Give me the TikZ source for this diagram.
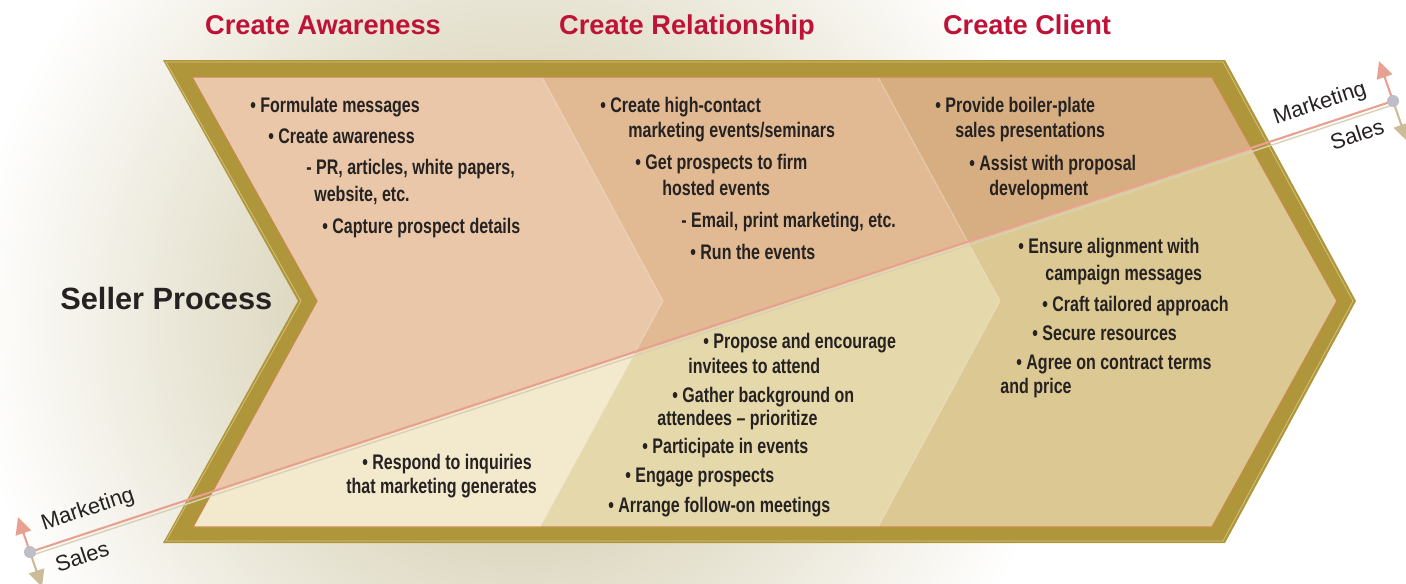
\documentclass[tikz,border=0pt]{standalone}
\usepackage{fontspec}
\setmainfont{Liberation Sans}
\newfontfamily\condfont[FakeStretch=0.76]{Liberation Sans}
\usetikzlibrary{arrows.meta}

\definecolor{gold}{RGB}{176,150,58}
\definecolor{goldedge}{RGB}{196,140,72}
\definecolor{goldlight}{RGB}{214,196,130}
\definecolor{ink}{RGB}{38,34,34}
\definecolor{crimson}{RGB}{190,18,55}
\definecolor{mktA}{RGB}{233,199,168}
\definecolor{mktB}{RGB}{225,186,147}
\definecolor{mktC}{RGB}{214,174,129}
\definecolor{slsA}{RGB}{243,234,206}
\definecolor{slsB}{RGB}{229,216,170}
\definecolor{slsC}{RGB}{220,200,146}
\definecolor{mkline}{RGB}{232,160,145}
\definecolor{slline}{RGB}{202,188,150}
\definecolor{haze}{RGB}{200,191,152}
\definecolor{dotgrey}{RGB}{190,190,198}

\begin{document}
\begin{tikzpicture}[
    x = 0.02cm, y = -0.02cm,
    item/.style = {font=\condfont\bfseries\fontsize{12}{14}\selectfont, text=ink, anchor=base west, inner sep=0pt},
    head/.style = {font=\bfseries\fontsize{15.5}{18}\selectfont, text=crimson, anchor=base, inner sep=0pt},
    side/.style = {font=\fontsize{12.5}{14}\selectfont, text=ink, rotate=18.3, inner sep=0pt},
    mkarrow/.style = {draw=mkline, line width=1.2pt, -{Triangle[length=0.34cm,width=0.32cm]}},
    slarrow/.style = {draw=slline, line width=1.2pt, -{Triangle[length=0.34cm,width=0.32cm]}}
    ]

    \useasboundingbox (0,0) rectangle (1406,583);

    \begin{scope}
        \clip (0,0) rectangle (1406,583);
        \shade[inner color=haze, outer color=white] (520,320) circle[radius=11cm];
    \end{scope}

    \coordinate (p0) at (192,77);  \coordinate (p1) at (542,77);
    \coordinate (p2) at (878,77);  \coordinate (p3) at (1212,77);
    \coordinate (m0) at (317,301); \coordinate (m1) at (663,301);
    \coordinate (m2) at (1000,301);\coordinate (m3) at (1337,301);
    \coordinate (b0) at (193,527); \coordinate (b1) at (540,527);
    \coordinate (b2) at (878,527); \coordinate (b3) at (1212,527);

    \fill[gold] (163,60) -- (1225,60) -- (1356,301) -- (1225,543) -- (163,543) -- (298,301) -- cycle;
    \draw[goldlight, line width=0.4pt] (166,62) -- (1223,62) -- (1353,301) -- (1223,541) -- (166,541) -- (301,301) -- cycle;

    \foreach \i/\j/\up/\dn in {0/1/mktA/slsA, 1/2/mktB/slsB, 2/3/mktC/slsC}{
        \fill[\up] (p\i) -- (p\j) -- (m\j) -- (b\j) -- (b\i) -- (m\i) -- cycle;
        \begin{scope}
            \clip (-10,565.2) -- (1420,92) -- (1420,600) -- (-10,600) -- cycle;
            \fill[\dn] (p\i) -- (p\j) -- (m\j) -- (b\j) -- (b\i) -- (m\i) -- cycle;
        \end{scope}
    }
    \draw[white, opacity=0.35, line width=0.6pt] (p1) -- (m1) -- (b1) (p2) -- (m2) -- (b2);
    \draw[goldedge, line width=0.7pt] (p0) -- (p3) -- (m3) -- (b3) -- (b0) -- (m0) -- cycle;

    \coordinate (dotL) at (30,552);
    \coordinate (dotR) at (1393,101);
    \coordinate (mkL) at (18,517);
    \coordinate (slL) at (42,587);
    \coordinate (mkR) at (1379,61);
    \coordinate (slR) at (1407,141);

    \draw[slline!70, line width=0.8pt] ([yshift=-2.2pt]dotL) -- ([yshift=-2.2pt]dotR);
    \draw[mkline, line width=1.2pt] (dotL) -- (dotR);
    \draw[mkarrow] (dotL) -- (mkL);
    \draw[slarrow] (dotL) -- (slL);
    \draw[mkarrow] (dotR) -- (mkR);
    \draw[slarrow] (dotR) -- (slR);
    \fill[dotgrey] (dotL) circle[radius=0.12cm];
    \fill[dotgrey] (dotR) circle[radius=0.12cm];

    \node[side] (mktLabL) at (88,510) {Marketing};
    \node[side] (slsLabL) at (82,556) {Sales};
    \node[side] (mktLabR) at (1320,104) {Marketing};
    \node[side] (slsLabR) at (1357,134) {Sales};

    \node[head] (hAware) at (323,34) {Create Awareness};
    \node[head] (hRelate) at (687,34) {Create Relationship};
    \node[head] (hClient) at (1027,34) {Create Client};

    \node[font=\bfseries\fontsize{17.5}{20}\selectfont, text=ink, anchor=base west, inner sep=0pt]
        (seller) at (60,309) {Seller Process};

    \foreach \x/\y/\t [count=\n] in {
        250/112/{\textbullet\ Formulate messages},
        268/143/{\textbullet\ Create awareness},
        306/174/{- PR, articles, white papers,},
        314/201/{website, etc.},
        322/233/{\textbullet\ Capture prospect details},
        362/469/{\textbullet\ Respond to inquiries},
        346/493/{that marketing generates}}
        \node[item] (aw\n) at (\x,\y) {\t};

    \foreach \x/\y/\t [count=\n] in {
        600/112/{\textbullet\ Create high-contact},
        628/137/{marketing events/seminars},
        635/169/{\textbullet\ Get prospects to firm},
        662/195/{hosted events},
        681/227/{- Email, print marketing, etc.},
        690/259/{\textbullet\ Run the events},
        703/348/{\textbullet\ Propose and encourage},
        688/373/{invitees to attend},
        672/402/{\textbullet\ Gather background on},
        657/425/{attendees \textendash\ prioritize},
        642/453/{\textbullet\ Participate in events},
        625/482/{\textbullet\ Engage prospects},
        608/512/{\textbullet\ Arrange follow-on meetings}}
        \node[item] (rl\n) at (\x,\y) {\t};

    \foreach \x/\y/\t [count=\n] in {
        935/112/{\textbullet\ Provide boiler-plate},
        955/137/{sales presentations},
        969/170/{\textbullet\ Assist with proposal},
        989/195/{development},
        1018/253/{\textbullet\ Ensure alignment with},
        1045/280/{campaign messages},
        1042/311/{\textbullet\ Craft tailored approach},
        1032/340/{\textbullet\ Secure resources},
        1016/369/{\textbullet\ Agree on contract terms},
        1000/393/{and price}}
        \node[item] (cl\n) at (\x,\y) {\t};

\end{tikzpicture}
\end{document}
